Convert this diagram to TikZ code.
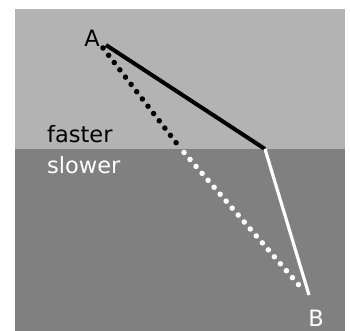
\documentclass[tikz,border=0pt]{standalone}
\usepackage{fontspec}
\setmainfont{DejaVu Sans}
\definecolor{lightg}{RGB}{179,179,179}
\definecolor{darkg}{RGB}{128,128,128}
\begin{document}
\begin{tikzpicture}[x=1pt,y=-1pt,
  lbl/.style={inner sep=0pt,font=\fontsize{22.5}{22.5}\selectfont},
  dotline/.style={line width=5.5pt,line cap=round,dash pattern=on 0pt off 9.2pt}]
\useasboundingbox (0,0) rectangle (350,331);
\fill[lightg] (15,9) rectangle (345,149);
\fill[darkg] (15,149) rectangle (345,331);
\coordinate (A) at (106,45);
\coordinate (P) at (265,149);
\coordinate (B) at (309,295);
\coordinate (dA) at (103,48);
\coordinate (dC) at (181,149);
\coordinate (dB) at (304,291);
\draw[black,line width=4pt] (A) -- (P);
\draw[white,line width=3.2pt] (P) -- (B);
\draw[black,dotline] (dA) -- (dC);
\draw[white,dotline,dash phase=4.6pt] (dC) -- (dB);
\node[lbl,black] (la) at (92,38) {A};
\node[lbl,white] (lb) at (316,318) {B};
\node[lbl,black,anchor=west] (lf) at (47,134) {faster};
\node[lbl,white,anchor=west] (ls) at (47,165) {slower};
\end{tikzpicture}
\end{document}
